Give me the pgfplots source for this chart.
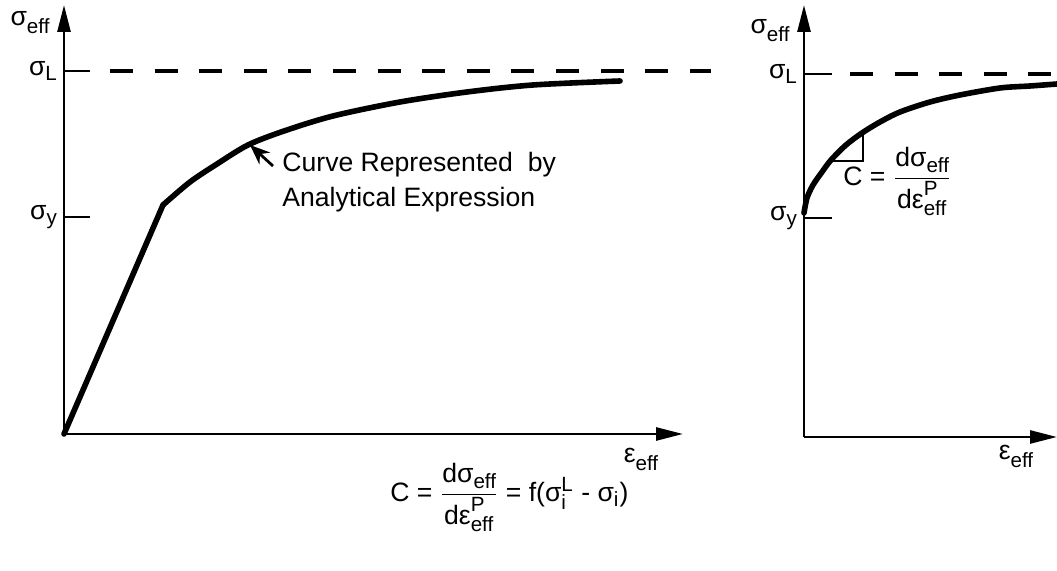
\documentclass[border=0pt]{standalone}
\usepackage{fontspec}
\setmainfont{Liberation Sans}
\usepackage{pgfplots}
\pgfplotsset{compat=1.18}
\usetikzlibrary{arrows.meta}

% lowered, smaller index text (eff, L, y ...)
\newcommand{\lo}[2][2.6pt]{\raisebox{-#1}{\fontsize{10.3}{12}\selectfont #2}}
\newcommand{\sm}[1]{\mbox{\fontsize{10.3}{12}\selectfont #1}}

\pgfplotsset{
  sketch/.style={
    x=0.5pt, y=0.5pt, xmin=0, ymin=0,
    enlargelimits=false, clip=false,
    axis lines=left,
    axis line style={line width=1.35pt, -{Triangle[length=13.5pt,width=6.5pt]}},
    every inner x axis line/.append style={-{Triangle[length=13.5pt,width=6.5pt]}},
    every outer x axis line/.append style={-{Triangle[length=13.5pt,width=6.5pt]}},
    every inner y axis line/.append style={-{Triangle[length=13.5pt,width=6.5pt]}},
    every outer y axis line/.append style={-{Triangle[length=13.5pt,width=6.5pt]}},
    xtick=\empty,
    tick align=inside,
    major tick style={line width=1.4pt, black},
    tick label style={font=\fontsize{13.3}{16}\selectfont},
    anchor=south west,
  },
  curve/.style={black, line width=2.8pt, line join=round, line cap=round, no marks},
  limit/.style={black, line width=1.65pt, dash pattern=on 11.5pt off 10.8pt, no marks},
}

\begin{document}
\begin{tikzpicture}[x=0.5pt, y=0.5pt, font=\fontsize{13.3}{16}\selectfont]
\path[use as bounding box] (0,0) rectangle (1057,571);

% ---------------- general stress-strain curve ----------------
\begin{axis}[sketch, at={(64,137)}, xmax=619, ymax=429,
  ytick={217,363}, yticklabels={σ\lo{y}, σ\lo{L}},
  major tick length=13pt]
  % limit stress
  \addplot[limit] coordinates {(46,363) (647,363)};
  % elastic branch
  \addplot[curve] coordinates {(0,0) (99,229)};
  % plastic branch
  \addplot[curve, smooth, tension=0.5] coordinates {
    (99,229) (126,252) (153,270) (184,289) (220,303) (269,318)
    (336,332) (403,342) (469,349) (556,353)};
  \node at (axis cs:-34,411) {σ\lo[4pt]{eff}};
  \node at (axis cs:577,-25) {ε\lo[4pt]{eff}};
  \draw[line width=1.4pt, -{Stealth[length=10pt,width=8pt]}]
    (axis cs:209,268) -- (axis cs:186,289);
  \node[anchor=base west, inner sep=0pt] at (axis cs:218,262) {Curve Represented~ by};
  \node[anchor=base west, inner sep=0pt] at (axis cs:218,227) {Analytical Expression};
  \node[anchor=base west, inner sep=0pt] at (axis cs:326,-68)
    {C = $\displaystyle\frac{\mbox{dσ\lo[3pt]{eff}}}{\mbox{dε}^{\sm{P}}_{\sm{eff}}}$
     = f(σ$^{\sm{L}}_{\sm{i}}$ - σ$_{\sm{i}}$)};
\end{axis}

% ---------------- detail near yield ----------------
\begin{axis}[sketch, at={(804,134)}, xmax=253, ymax=432,
  ytick={219,363}, yticklabels={σ\lo{y}, σ\lo{L}},
  major tick length=14pt]
  \addplot[limit] coordinates {(46,363) (250,363)};
  \addplot[curve, smooth, tension=0.5] coordinates {
    (0,224) (3,239) (9,252) (18,265) (27,277) (42,292) (58,304)
    (76,315) (96,325) (126,335) (156,342) (196,349) (226,351) (253,353)};
  % slope triangle
  \addplot[black, line width=1.2pt, no marks] coordinates {(28,276) (59,276) (59,304)};
  \node at (axis cs:-34,406) {σ\lo[4pt]{eff}};
  \node at (axis cs:212,-19) {ε\lo[4pt]{eff}};
  \node[anchor=base west, inner sep=0pt] at (axis cs:39,251)
    {C = $\displaystyle\frac{\mbox{dσ\lo[3pt]{eff}}}{\mbox{dε}^{\sm{P}}_{\sm{eff}}}$};
\end{axis}
\end{tikzpicture}
\end{document}
